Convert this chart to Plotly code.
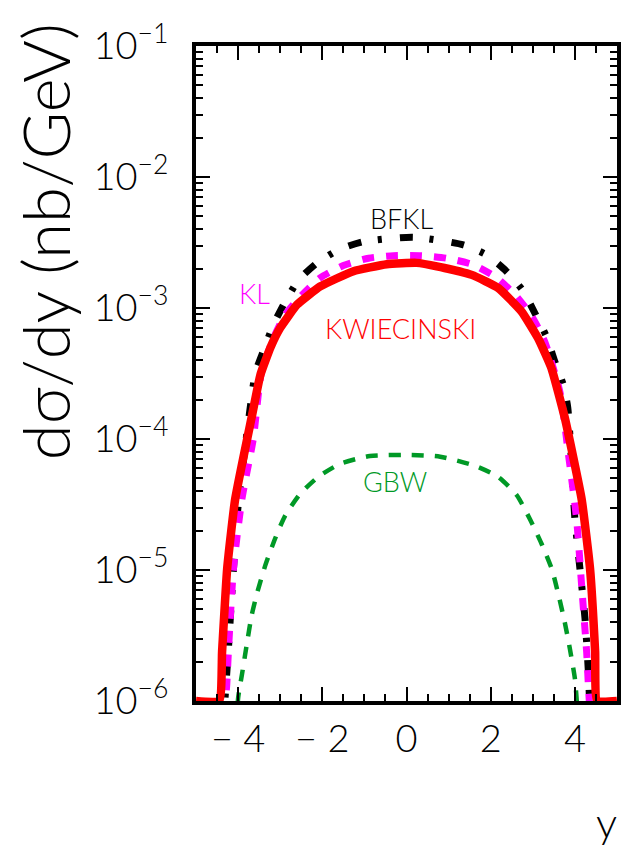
import plotly.graph_objects as go

# ---- data ----
kw_x = [-5.0, -4.45, -4.38, -4.26, -4.07, -3.67, -3.47, -3.23, -3.00, -2.60, -2.05, -1.26, -0.47,
        0.24, 0.75, 1.55, 2.18, 2.73, 3.12, 3.44, 3.76, 4.16, 4.36, 4.48, 4.53, 5.0]
kw_y = [1.0e-6, 1.0e-6, 2.40e-6, 1.02e-5, 3.47e-5, 1.51e-4, 3.09e-4, 5.01e-4, 7.05e-4, 1.06e-3,
        1.46e-3, 1.91e-3, 2.16e-3, 2.21e-3, 2.07e-3, 1.79e-3, 1.42e-3, 9.42e-4, 5.92e-4, 3.49e-4,
        1.45e-4, 3.47e-5, 1.02e-5, 2.40e-6, 1.0e-6, 1.0e-6]

kl_x = [-4.33, -4.27, -4.23, -4.11, -3.91, -3.64, -3.45, -3.16, -2.88, -2.48, -2.05, -1.50, -0.90,
        -0.31, 0.36, 0.95, 1.58, 2.14, 2.61, 3.00, 3.28, 3.65, 3.84, 4.04, 4.16, 4.28, 4.32, 4.36]
kl_y = [7.9e-7, 1.32e-6, 2.40e-6, 1.02e-5, 3.47e-5, 1.0e-4, 3.16e-4, 5.89e-4, 8.91e-4, 1.26e-3,
        1.70e-3, 2.11e-3, 2.40e-3, 2.51e-3, 2.51e-3, 2.40e-3, 2.14e-3, 1.70e-3, 1.23e-3, 8.39e-4,
        5.57e-4, 2.24e-4, 7.94e-5, 2.45e-5, 7.59e-6, 2.34e-6, 1.32e-6, 7.9e-7]

bfkl_x = [-4.35, -4.31, -4.23, -4.15, -4.00, -3.67, -3.59, -3.39, -3.16, -2.88, -2.56, -2.13, -1.62,
          -1.02, 0.16, 1.35, 1.90, 2.37, 2.77, 3.05, 3.32, 3.52, 3.72, 3.83, 4.00, 4.12, 4.24, 4.32, 4.37]
bfkl_y = [6.3e-7, 1.05e-6, 2.51e-6, 6.46e-6, 3.09e-5, 2.19e-4, 3.20e-4, 4.79e-4, 7.46e-4, 1.12e-3,
          1.64e-3, 2.20e-3, 2.78e-3, 3.21e-3, 3.47e-3, 3.03e-3, 2.55e-3, 1.91e-3, 1.35e-3, 9.12e-4,
          6.08e-4, 3.93e-4, 2.61e-4, 1.74e-4, 2.45e-5, 1.02e-5, 4.27e-6, 1.66e-6, 6.3e-7]

gbw_x = [-4.03, -4.00, -3.91, -3.80, -3.68, -3.56, -3.36, -3.12, -2.89, -2.53, -2.10, -1.58, -0.87,
         0.10, 0.80, 1.67, 2.18, 2.62, 2.93, 3.21, 3.45, 3.61, 3.76, 3.88, 4.00, 4.04, 4.08]
gbw_y = [6.3e-7, 1.05e-6, 1.58e-6, 2.63e-6, 4.47e-6, 6.46e-6, 1.07e-5, 1.74e-5, 2.57e-5, 3.80e-5,
         5.13e-5, 6.46e-5, 7.41e-5, 7.55e-5, 7.33e-5, 6.17e-5, 5.13e-5, 3.72e-5, 2.45e-5, 1.58e-5,
         1.02e-5, 6.46e-6, 3.98e-6, 2.51e-6, 1.48e-6, 1.05e-6, 6.3e-7]

x_tickvals = [-4, -2, 0, 2, 4]
x_ticktext = ["\u2212 4", "\u2212 2", "0", "2", "4"]
y_tickvals = [1e-6, 1e-5, 1e-4, 1e-3, 1e-2, 1e-1]
y_ticktext = ["10<sup>\u22126</sup>", "10<sup>\u22125</sup>", "10<sup>\u22124</sup>",
              "10<sup>\u22123</sup>", "10<sup>\u22122</sup>", "10<sup>\u22121</sup>"]

FONT = "Lato"
WEIGHT = 300

fig = go.Figure()
fig.add_trace(go.Scatter(x=gbw_x, y=gbw_y, mode="lines", name="GBW",
                         line=dict(color="#009926", width=4.5, dash="12px,11px", shape="spline", smoothing=0.6)))
fig.add_trace(go.Scatter(x=bfkl_x, y=bfkl_y, mode="lines", name="BFKL",
                         line=dict(color="black", width=7, dash="13px,17px,4px,18px", shape="spline", smoothing=0.6)))
fig.add_trace(go.Scatter(x=kl_x, y=kl_y, mode="lines", name="KL",
                         line=dict(color="#FF00FF", width=7, dash="12px,12px", shape="spline", smoothing=0.6)))
fig.add_trace(go.Scatter(x=kw_x, y=kw_y, mode="lines", name="KWIECINSKI",
                         line=dict(color="#FF0000", width=8.5, shape="spline", smoothing=0.4)))

axis_common = dict(showline=True, linecolor="black", linewidth=4, mirror="allticks",
                   ticks="inside", ticklen=14, tickwidth=2, tickcolor="black",
                   showgrid=False, zeroline=False,
                   tickfont=dict(family=FONT, size=38, color="black", weight=WEIGHT))

fig.update_xaxes(range=[-5, 5], tickmode="array", tickvals=x_tickvals, ticktext=x_ticktext,
                 ticklabelstandoff=1,
                 minor=dict(dtick=0.5, ticks="inside", ticklen=7, tickwidth=2, tickcolor="black"),
                 **axis_common)
fig.update_yaxes(type="log", range=[-6, -1], tickmode="array", tickvals=y_tickvals, ticktext=y_ticktext,
                 ticklabelstandoff=16,
                 minor=dict(dtick="D1", ticks="inside", ticklen=7, tickwidth=2, tickcolor="black"),
                 **axis_common)

labels = [
    ("BFKL", -0.13, -2.32, "black"),
    ("KL", -3.60, -2.886, "#FF00FF"),
    ("KWIECINSKI", -0.14, -3.153, "#FF0000"),
    ("GBW", -0.27, -4.328, "#009926"),
]
for txt, lx, ly, col in labels:
    fig.add_annotation(x=lx, y=ly, xref="x", yref="y", text=txt, showarrow=False,
                       xanchor="center", yanchor="middle",
                       font=dict(family=FONT, size=27, color=col, weight=WEIGHT))

fig.add_annotation(x=-0.3587, y=0.702, xref="paper", yref="paper", text="d\u03c3/dy (nb/GeV)",
                   textangle=-90, showarrow=False, xanchor="center", yanchor="middle",
                   font=dict(family=FONT, size=65, color="black", weight=WEIGHT))
fig.add_annotation(x=0.9755, y=-0.184, xref="paper", yref="paper", text="y",
                   showarrow=False, xanchor="center", yanchor="middle",
                   font=dict(family=FONT, size=42, color="black", weight=WEIGHT))

fig.update_layout(width=621, height=852, margin=dict(l=196, r=4, t=46, b=151, autoexpand=False),
                  paper_bgcolor="white", plot_bgcolor="white", showlegend=False)

fig.write_html("out.html", config={"displayModeBar": False},
               post_script="document.body.style.margin='0px';")
